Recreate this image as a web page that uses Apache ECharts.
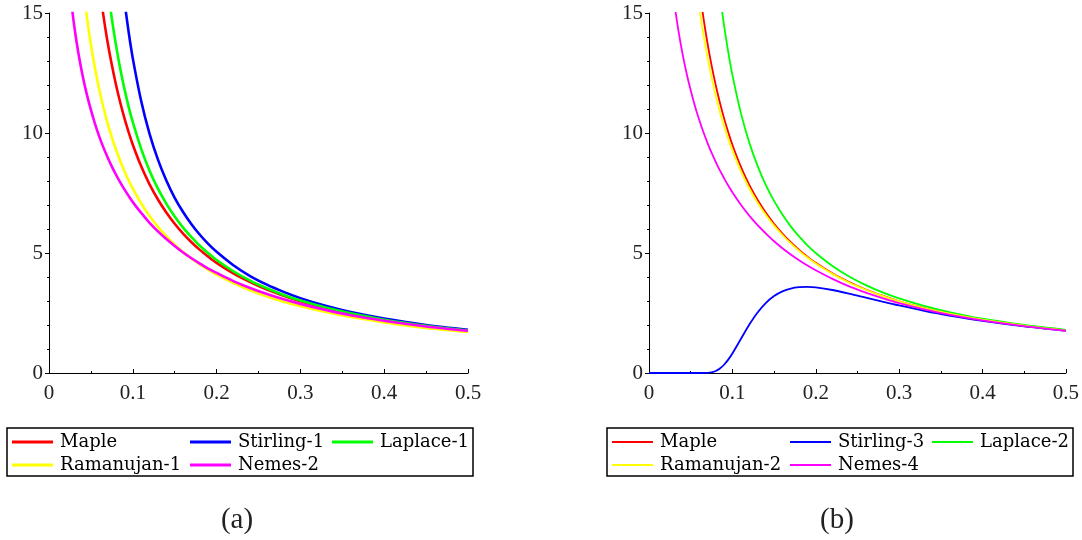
<!DOCTYPE html>
<html>
<head>
<meta charset="utf-8">
<script src="https://cdn.jsdelivr.net/npm/echarts@6/dist/echarts.min.js"></script>
<style>
  html, body { margin: 0; padding: 0; background: #fff; }
  #main { width: 1082px; height: 540px; }
</style>
</head>
<body>
<div id="main"></div>
<script>
// x positions shared by every curve
var xs = [0, 0.02, 0.025, 0.03, 0.035, 0.04, 0.045, 0.05, 0.055, 0.06, 0.065, 0.07, 0.075, 0.08,
  0.085, 0.09, 0.095, 0.1, 0.11, 0.12, 0.13, 0.14, 0.15, 0.16, 0.17, 0.18, 0.19, 0.2,
  0.22, 0.24, 0.26, 0.28, 0.3, 0.33, 0.36, 0.4, 0.45, 0.5];

var xTicks = ['0', '0.1', '0.2', '0.3', '0.4', '0.5'];
var yTicks = ['0', '5', '10', '15'];

// (a) and (b) curves, null = off the top of the plot
var maple = [null, null, null, null, null, null, null, null, null,
  16.15, 14.87, 13.77, 12.83, 12.00, 11.27, 10.62, 10.04, 9.51, 8.61, 7.86, 7.23, 6.69, 6.22,
  5.81, 5.45, 5.13, 4.85, 4.59, 4.15, 3.79, 3.48, 3.22, 2.99, 2.71, 2.47, 2.22, 1.97, 1.77];

var stirling1 = [null, null, null, null, null, null, null, null, null, null, null, null, null, null,
  17.07, 15.52, 14.22, 13.11, 11.33, 9.96, 8.89, 8.02, 7.30, 6.71, 6.20, 5.76, 5.38, 5.05,
  4.49, 4.04, 3.68, 3.38, 3.12, 2.80, 2.54, 2.27, 2.00, 1.80];

var laplace1 = [null, null, null, null, null, null, null, null, null, null, null,
  16.06, 14.76, 13.65, 12.68, 11.84, 11.10, 10.45, 9.34, 8.43, 7.68, 7.06, 6.52, 6.06, 5.66,
  5.30, 4.99, 4.71, 4.24, 3.85, 3.53, 3.25, 3.02, 2.73, 2.49, 2.22, 1.97, 1.77];

var ramanujan1 = [null, null, null, null, null,
  16.34, 14.89, 13.69, 12.68, 11.81, 11.06, 10.40, 9.82, 9.30, 8.83, 8.41, 8.03, 7.68, 7.07,
  6.54, 6.09, 5.70, 5.35, 5.04, 4.77, 4.52, 4.30, 4.10, 3.75, 3.45, 3.19, 2.97, 2.78, 2.54,
  2.33, 2.11, 1.88, 1.71];

var nemes2 = [null, null,
  15.94, 14.49, 13.34, 12.41, 11.63, 10.96, 10.37, 9.85, 9.39, 8.98, 8.60, 8.26, 7.94, 7.65,
  7.38, 7.12, 6.67, 6.26, 5.90, 5.58, 5.29, 5.02, 4.78, 4.56, 4.35, 4.17, 3.83, 3.54, 3.29,
  3.07, 2.88, 2.63, 2.41, 2.18, 1.94, 1.76];

var stirling3 = [0, 0, 0, 0, 0, 0, 0, 0, 0, 0,
  0.001, 0.007, 0.029, 0.083, 0.185, 0.344, 0.557, 0.815, 1.406, 1.997, 2.511, 2.915, 3.207,
  3.403, 3.520, 3.576, 3.587, 3.565, 3.458, 3.308, 3.142, 2.974, 2.814, 2.593, 2.396, 2.171,
  1.942, 1.757];

var laplace2 = [null, null, null, null, null, null, null, null, null, null, null, null, null, null,
  15.76, 14.48, 13.38, 12.42, 10.86, 9.63, 8.65, 7.84, 7.17, 6.60, 6.11, 5.69, 5.32, 5.00,
  4.46, 4.02, 3.66, 3.36, 3.11, 2.80, 2.54, 2.26, 2.00, 1.80];

var ramanujan2 = [null, null, null, null, null, null, null, null,
  16.63, 15.30, 14.16, 13.18, 12.32, 11.56, 10.89, 10.29, 9.75, 9.27, 8.42, 7.71, 7.11, 6.59,
  6.14, 5.75, 5.40, 5.09, 4.81, 4.56, 4.13, 3.77, 3.47, 3.21, 2.98, 2.70, 2.47, 2.22, 1.97, 1.77];

var nemes4 = [null, null,
  17.03, 15.53, 14.33, 13.34, 12.50, 11.78, 11.14, 10.57, 10.06, 9.60, 9.18, 8.80, 8.44, 8.12,
  7.81, 7.53, 7.02, 6.57, 6.17, 5.82, 5.49, 5.20, 4.94, 4.70, 4.48, 4.28, 3.92, 3.61, 3.35,
  3.12, 2.91, 2.65, 2.43, 2.19, 1.95, 1.76];

function pairs(vals) {
  return xs.map(function (x, i) { return [x, vals[i]]; })
    .filter(function (p) { return p[1] !== null; });
}

function curve(name, vals, color, width, idx) {
  return {
    name: name, type: 'line', data: pairs(vals), color: color,
    xAxisIndex: idx, yAxisIndex: idx,
    showSymbol: false, symbol: 'none', smooth: 0.3, clip: true,
    lineStyle: {color: color, width: width}
  };
}

var tickFont = {fontFamily: 'Liberation Serif', fontSize: 21, color: '#222'};

function xAxis(idx) {
  return {
    type: 'value', gridIndex: idx, min: 0, max: 0.5, interval: 0.1,
    axisLine: {lineStyle: {color: '#000', width: 1}},
    axisTick: {inside: true, length: 4, lineStyle: {color: '#000'}},
    minorTick: {show: true, splitNumber: 2, length: 2, lineStyle: {color: '#000'}},
    splitLine: {show: false},
    axisLabel: Object.assign({margin: 10, formatter: function (v) {
      return xTicks[Math.round(v * 10)];
    }}, tickFont)
  };
}

function yAxis(idx) {
  return {
    type: 'value', gridIndex: idx, min: 0, max: 15, interval: 5,
    axisLine: {show: true, lineStyle: {color: '#000', width: 1}},
    axisTick: {show: true, length: 4, lineStyle: {color: '#000'}},
    minorTick: {show: true, splitNumber: 5, length: 2, lineStyle: {color: '#000'}},
    splitLine: {show: false},
    axisLabel: Object.assign({margin: 6, formatter: function (v) {
      return yTicks[Math.round(v / 5)];
    }}, tickFont)
  };
}

function legend(left, names, h) {
  return {
    left: left, top: 432, orient: 'vertical', padding: 0, itemGap: 3,
    itemWidth: 41, itemHeight: h, icon: 'rect', selectedMode: false,
    data: names,
    textStyle: {fontFamily: 'DejaVu Serif', fontSize: 18, lineHeight: 20, color: '#000',
      padding: [0, 0, 0, 2]}
  };
}

var chart = echarts.init(document.getElementById('main'));

chart.setOption({
  animation: false,
  backgroundColor: '#fff',
  grid: [
    {left: 49, top: 13, width: 419, height: 360},
    {left: 649, top: 13, width: 419, height: 360}
  ],
  xAxis: [xAxis(0), xAxis(1)],
  yAxis: [yAxis(0), yAxis(1)],
  legend: [
    legend(12, ['Maple', 'Ramanujan-1'], 3),
    legend(190, ['Stirling-1', 'Nemes-2'], 3),
    legend(332, ['Laplace-1'], 3),
    legend(612, ['Maple', 'Ramanujan-2'], 2),
    legend(790, ['Stirling-3', 'Nemes-4'], 2),
    legend(932, ['Laplace-2'], 2)
  ],
  graphic: [
    {type: 'rect', shape: {x: 7, y: 428, width: 466, height: 48},
      style: {fill: 'none', stroke: '#000', lineWidth: 1.5}},
    {type: 'rect', shape: {x: 607, y: 428, width: 466, height: 48},
      style: {fill: 'none', stroke: '#000', lineWidth: 1.5}},
    {type: 'text', x: 237, y: 520, style: {text: '(a)', fontFamily: 'Liberation Serif',
      fontSize: 29, fill: '#222', align: 'center', verticalAlign: 'middle'}},
    {type: 'text', x: 837, y: 520, style: {text: '(b)', fontFamily: 'Liberation Serif',
      fontSize: 29, fill: '#222', align: 'center', verticalAlign: 'middle'}}
  ],
  series: [
    curve('Maple', maple, '#ff0000', 2.6, 0),
    curve('Stirling-1', stirling1, '#0000ff', 2.6, 0),
    curve('Laplace-1', laplace1, '#00ff00', 2.6, 0),
    curve('Ramanujan-1', ramanujan1, '#ffff00', 2.6, 0),
    curve('Nemes-2', nemes2, '#ff00ff', 2.6, 0),
    curve('Maple', maple, '#ff0000', 1.8, 1),
    curve('Stirling-3', stirling3, '#0000ff', 1.8, 1),
    curve('Laplace-2', laplace2, '#00ff00', 1.8, 1),
    curve('Ramanujan-2', ramanujan2, '#ffff00', 1.8, 1),
    curve('Nemes-4', nemes4, '#ff00ff', 1.8, 1)
  ]
});
</script>
</body>
</html>
